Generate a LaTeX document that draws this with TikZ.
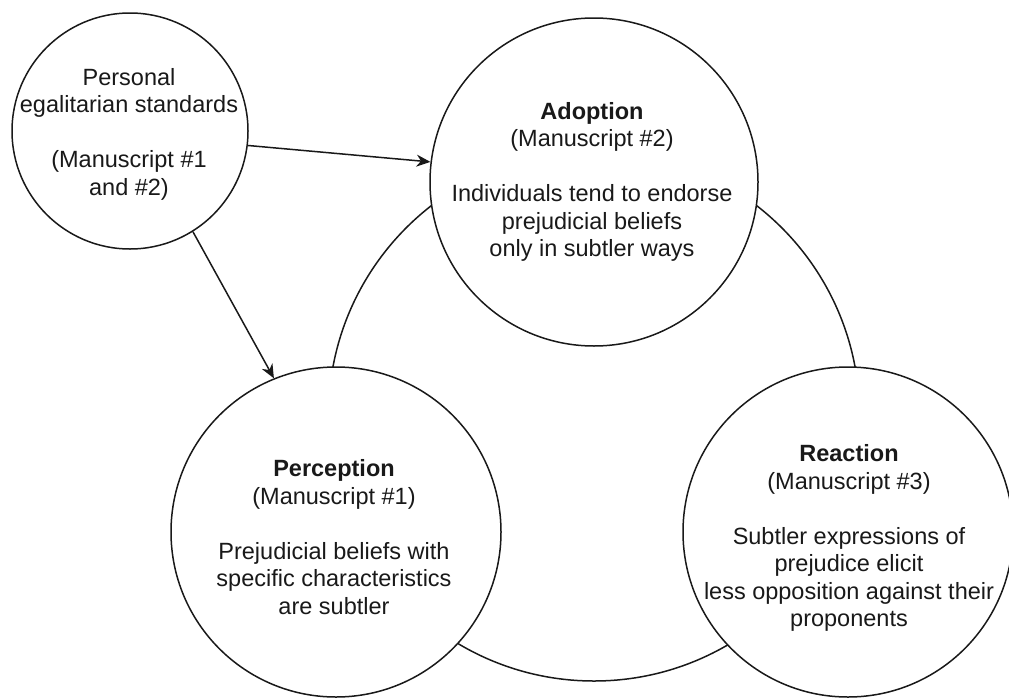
\documentclass[tikz,border=0pt]{standalone}
\usepackage{fontspec}
\setmainfont{Liberation Sans}
\usetikzlibrary{arrows.meta}
\begin{document}
\begin{tikzpicture}[x=1pt,y=-1pt,
  line width=1.5pt,
  bubble/.style={circle,draw=black!90,fill=white,inner sep=0pt},
  caption/.style={align=center,inner sep=0pt,text=black!90,
    font=\fontsize{23.5}{27.5}\selectfont},
  link/.style={draw=black!90,-{Stealth[length=14pt,width=12pt,inset=4.5pt]}}]
  \useasboundingbox (0,0) rectangle (1009,699);
  % ring joining the three stages
  \node[circle,draw=black!90,inner sep=0pt,minimum size=531pt] (ring) at (594,415.5) {};
  % stages
  \node[bubble,minimum size=328pt] (adopt) at (594,182) {};
  \node[caption] (adopt-txt) at (592,182)
    {\textbf{Adoption}\\(Manuscript \#2)\\[27.5pt]Individuals tend to endorse\\prejudicial beliefs\\only in subtler ways};
  \node[bubble,minimum size=330pt] (perc) at (336,532) {};
  \node[caption] (perc-txt) at (334,537)
    {\textbf{Perception}\\(Manuscript \#1)\\[27.5pt]Prejudicial beliefs with\\specific characteristics\\are subtler};
  \node[bubble,minimum size=330pt] (react) at (848,532) {};
  \node[caption] (react-txt) at (849,538)
    {\textbf{Reaction}\\(Manuscript \#3)\\[27.5pt]Subtler expressions of\\prejudice elicit\\less opposition against their\\proponents};
  % standards feeding into the stages
  \node[bubble,minimum size=236pt] (std) at (130,131) {};
  \node[caption] (std-txt) at (129,134)
    {Personal\\egalitarian standards\\[27.5pt](Manuscript \#1\\and \#2)};
  \draw[link] (std.-7.8) -- (adopt.173.8);
  \draw[link] (std.-58.7) -- (perc.112.9);
\end{tikzpicture}
\end{document}
